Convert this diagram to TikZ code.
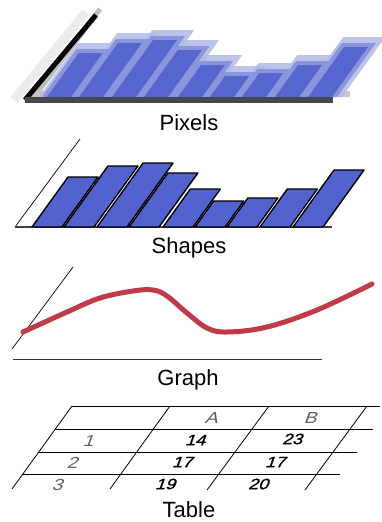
\documentclass[tikz,border=0pt]{standalone}
\usepackage{fontspec}
\setmainfont{Liberation Sans}
\newfontfamily\tabfont[FakeSlant=0.35,FakeStretch=1.2]{Liberation Sans}
\newfontfamily\tabfontb[FakeSlant=0.35,FakeStretch=1.2,FakeBold=1.2]{Liberation Sans}
\definecolor{barblue}{RGB}{82,98,206}
\definecolor{pixblue}{RGB}{86,102,206}
\definecolor{ghostblue}{RGB}{178,186,232}
\definecolor{midblue}{RGB}{138,150,220}
\definecolor{curvered}{RGB}{192,58,72}
\definecolor{basegray}{RGB}{70,70,78}
\begin{document}
\begin{tikzpicture}[x=1pt,y=-1pt,
  label/.style={font=\fontsize{22}{26}\selectfont,anchor=base,inner sep=0pt},
  shapebar/.style={draw=black,line width=1.4pt,fill=barblue,line join=round},
  thin/.style={draw=black,line width=0.8pt},
  hdr/.style={font=\tabfont\fontsize{16}{18}\selectfont,text=black!62,inner sep=0pt},
  val/.style={font=\tabfontb\fontsize{15}{17}\selectfont,text=black,inner sep=0pt}]
\useasboundingbox (0,0) rectangle (382,522);
\fill[white] (0,0) rectangle (382,522);

% ---------------- Pixels ----------------
% ghost axis bands
\draw[line width=9pt,black!8] (14,100) -- (86,12);
\draw[line width=5pt,black!25] (31,101) -- (100,9);
% ghost baseline
\fill[black!22] (30,91) rectangle (350,97);
% ghost bars (wide, light)
\foreach \x/\h in {44/48,76/58,109/61,141/51,175/36,207/25,239/28,272/36,305/54}{
  \fill[ghostblue,opacity=0.85] (\x-5,97) -- (\x+37,97) -- ({\x+37+0.72*(\h+6)},{97-\h-6}) -- ({\x-5+0.72*(\h+6)},{97-\h-6}) -- cycle;
}
% mid bars
\foreach \x/\h in {44/48,76/58,109/61,141/51,175/36,207/25,239/28,272/36,305/54}{
  \fill[midblue] (\x-2,97) -- (\x+32,97) -- ({\x+32+0.72*\h},{97-\h}) -- ({\x-2+0.72*\h},{97-\h}) -- cycle;
}
% solid bars
\foreach \x/\h in {44/48,76/58,109/61,141/51,175/36,207/25,239/28,272/36,305/54}{
  \fill[pixblue] (\x+3,97) -- (\x+27,97) -- ({\x+27+0.72*(\h-4)},{97-\h+4}) -- ({\x+3+0.72*(\h-4)},{97-\h+4}) -- cycle;
}
% axis and baseline
\draw[line width=5pt,black] (25,100) -- (96,15);
\fill[basegray] (25,97) rectangle (333,103);
\node[label] (pixels) at (189,130) {Pixels};

% ---------------- Shapes ----------------
\draw[thin,line width=0.7pt] (15,227) -- (80,139);
\draw[black!75,line width=1.4pt] (15,227) -- (332,227);
\foreach \x/\h in {32/50,64/61,97/64,129/54,163/38,195/26,227/29,260/38,293/57}{
  \draw[shapebar] (\x,227) -- (\x+30,227) -- ({\x+30+0.72*\h},{227-\h}) -- ({\x+0.72*\h},{227-\h}) -- cycle;
}
\node[label] (shapes) at (189,253) {Shapes};

% ---------------- Graph ----------------
\draw[thin,line width=0.7pt] (12,349) -- (73,267);
\draw[black!80,line width=0.9pt] (13,359) -- (322,359);
\draw[curvered,line width=5pt,line cap=round] plot[smooth,tension=0.6] coordinates
  {(23,332) (67,312) (100,298) (133,291) (153,290) (167,296) (187,313) (207,328) (227,332) (267,327) (317,310) (372,284)};
\node[label] (graph) at (188,385) {Graph};

% ---------------- Table ----------------
\draw[thin,line width=1pt] (72,406) -- (380,406);
\draw[thin] (55,429) -- (373,429);
\draw[thin] (39,452) -- (357,452);
\draw[thin] (23,474) -- (340,474);
\draw[thin] (72,406) -- (12,489);
\draw[thin] (170,406) -- (110,489);
\draw[thin] (269,406) -- (207,490);
\draw[thin] (367,406) -- (305,490);

\node[hdr] (hA) at (211,418) {A};
\node[hdr] (hB) at (310,418) {B};
\node[hdr] (r1) at (88,441) {1};
\node[hdr] (r2) at (72,463) {2};
\node[hdr] (r3) at (57,485) {3};
\node[val] (v14) at (195,440) {14};
\node[val] (v23) at (292,439) {23};
\node[val] (v17a) at (182,462) {17};
\node[val] (v17b) at (275,462) {17};
\node[val] (v19) at (165,484) {19};
\node[val] (v20) at (258,484) {20};
\node[label] (table) at (189,517) {Table};
\end{tikzpicture}
\end{document}
